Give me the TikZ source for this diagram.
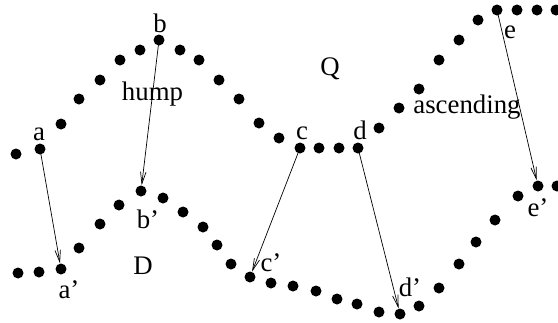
\documentclass[tikz,border=0pt]{standalone}
\usepackage{fontspec}
\setmainfont{Liberation Serif}
\usetikzlibrary{arrows.meta}
\begin{document}
\begin{tikzpicture}[x=1pt,y=-1pt,
  dot/.style={circle,fill=black,inner sep=0pt,minimum size=11pt},
  lbl/.style={anchor=base,inner sep=0pt,font=\fontsize{26.8}{30}\selectfont},
  map/.style={-{Straight Barb[length=12pt,width=5.5pt]},line width=0.7pt}]
\useasboundingbox (0,0) rectangle (558,322);
\foreach \x/\y [count=\i] in {16/154,40/149,61/124,79/99,100/80,120/60,140/50,159/40,180/50,199/60,219/80,239/99,259/123,279/138,300/148,319/148,339/148,358/148,379/128,399/108,419/89,439/60,459/40,478/20,497/10,517/10,537/10,556/10}
  \node[dot] (t\i) at (\x,\y) {};
\foreach \x/\y [count=\i] in {18/273,39/272,61/269,79/248,100/224,119/205,141/191,163/198,183/212,203/227,217/245,231/264,250/277,271/283,293/286,316/291,337/299,357/304,379/312,400/314,419/306,439/288,459/264,476/242,495/220,518/196,538/186,557/186}
  \node[dot] (b\i) at (\x,\y) {};
\draw[map] (t2.center) -- (b3);
\draw[map] (t8.center) -- (b7);
\draw[map] (t15.center) -- (b13);
\draw[map] (t18.center) -- (b20);
\draw[map] (t25.center) -- (b27);
\node[lbl] (la) at (39,140) {a};
\node[lbl] (lb) at (160,32) {b};
\node[lbl] (lc) at (302,139) {c};
\node[lbl] (ld) at (360,139) {d};
\node[lbl] (le) at (510,38) {e};
\node[lbl] (lhump) at (152.5,100) {hump};
\node[lbl] (lQ) at (330,75) {Q};
\node[lbl] (lasc) at (467,113) {ascending};
\node[lbl] (la2) at (69,298) {a'};
\node[lbl] (lb2) at (148,228) {b'};
\node[lbl] (lc2) at (271,271) {c'};
\node[lbl] (ld2) at (410,296) {d'};
\node[lbl] (le2) at (538,216) {e'};
\node[lbl] (lD) at (143,274) {D};
\end{tikzpicture}
\end{document}
